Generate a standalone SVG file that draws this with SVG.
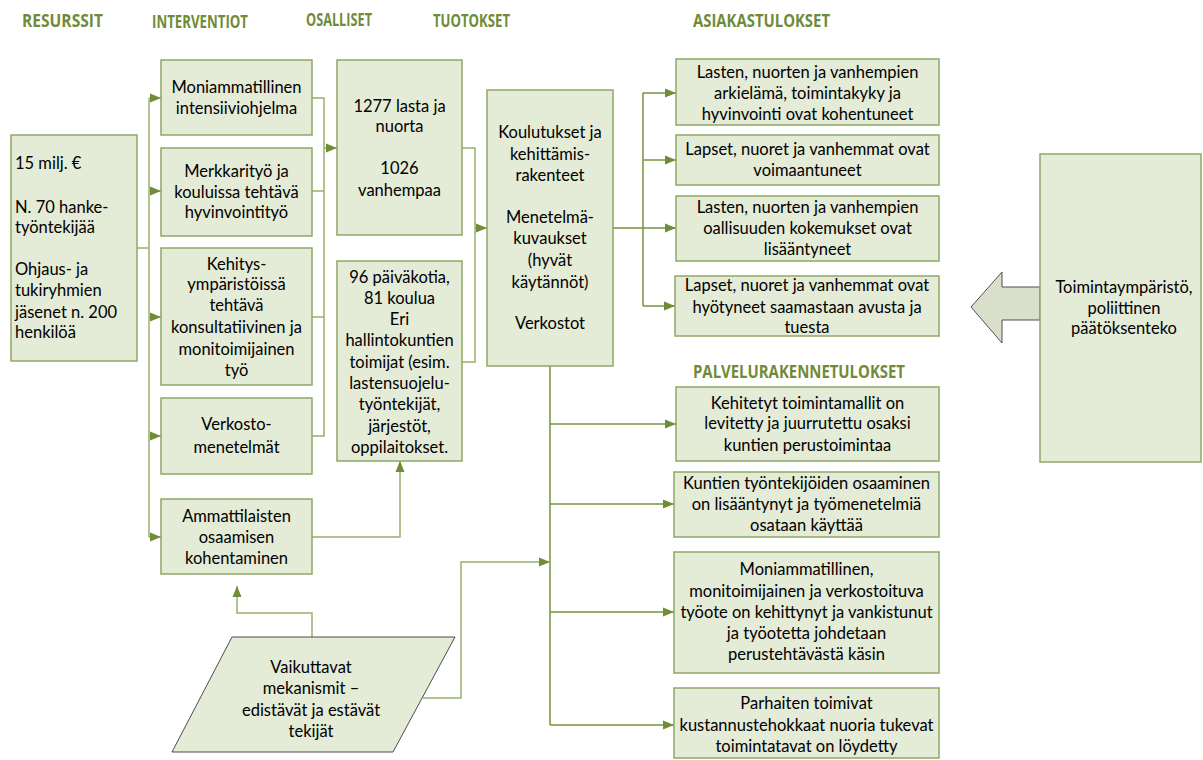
<svg xmlns="http://www.w3.org/2000/svg" width="1203" height="760" viewBox="0 0 1203 760">
<style>
.bg{fill:#ffffff}
.box{fill:#E4EBD6;stroke:#8FA866;stroke-width:1.5}
.para{fill:#E4EBD6;stroke:#3a3a3a;stroke-width:0.9}
.bigarrow{fill:#D9DFCB;stroke:#404040;stroke-width:0.9}
.hdr{font-family:"Open Sans","Liberation Sans",sans-serif;font-weight:bold;font-size:17px;fill:#6F8B37}
.t{font-family:Lato,"Liberation Sans",sans-serif;font-size:16.5px;fill:#000;text-anchor:middle}
.tl{font-family:Lato,"Liberation Sans",sans-serif;font-size:16.5px;fill:#000}
.c{fill:none;stroke:#77933C;stroke-width:1.5}
.cl{fill:none;stroke:#98B070;stroke-width:1.5}
</style>
<defs>
<marker id="ah" markerUnits="userSpaceOnUse" markerWidth="12" markerHeight="10" refX="11" refY="5" orient="auto">
<path d="M0,0.5 L11,5 L0,9.5 z" fill="#6F8C37"/>
</marker>
</defs>
<rect class="bg" x="0" y="0" width="1203" height="760"/>

<g id="headers">
<text class="hdr" x="22" y="27" textLength="81" lengthAdjust="spacingAndGlyphs">RESURSSIT</text>
<text class="hdr" x="152" y="28" textLength="96" lengthAdjust="spacingAndGlyphs">INTERVENTIOT</text>
<text class="hdr" x="306" y="26" textLength="66" lengthAdjust="spacingAndGlyphs">OSALLISET</text>
<text class="hdr" x="433" y="27" textLength="77" lengthAdjust="spacingAndGlyphs">TUOTOKSET</text>
<text class="hdr" x="693" y="27" textLength="137" lengthAdjust="spacingAndGlyphs">ASIAKASTULOKSET</text>
<text class="hdr" x="693" y="378" textLength="212" lengthAdjust="spacingAndGlyphs">PALVELURAKENNETULOKSET</text>
</g>

<g id="connectors">
<path class="cl" d="M137,248 H149"/>
<path class="cl" d="M149,98 V537"/>
<path class="cl" d="M149,98 H161" marker-end="url(#ah)"/>
<path class="cl" d="M149,191 H161" marker-end="url(#ah)"/>
<path class="cl" d="M149,317 H161" marker-end="url(#ah)"/>
<path class="cl" d="M149,436 H161" marker-end="url(#ah)"/>
<path class="cl" d="M149,537 H161" marker-end="url(#ah)"/>
<path class="cl" d="M312,98 H324 V436 H312"/>
<path class="cl" d="M312,191 H324"/>
<path class="cl" d="M312,317 H324"/>
<path class="cl" d="M324,148 H337" marker-end="url(#ah)"/>
<path class="cl" d="M312,537 H400 V461" marker-end="url(#ah)"/>
<path class="cl" d="M462,148 H475 V362 H462"/>
<path class="cl" d="M475,228 H487" marker-end="url(#ah)"/>
<path class="c" d="M613,228 H643"/>
<path class="c" d="M643,93 V306"/>
<path class="c" d="M643,93 H676" marker-end="url(#ah)"/>
<path class="c" d="M643,160 H676" marker-end="url(#ah)"/>
<path class="c" d="M643,228 H676" marker-end="url(#ah)"/>
<path class="c" d="M643,306 H675" marker-end="url(#ah)"/>
<path class="c" d="M550,366 V725"/>
<path class="c" d="M550,424 H676" marker-end="url(#ah)"/>
<path class="c" d="M550,504 H674" marker-end="url(#ah)"/>
<path class="c" d="M550,612 H674" marker-end="url(#ah)"/>
<path class="c" d="M550,725 H674" marker-end="url(#ah)"/>
<path class="cl" d="M423,698 H461 V562 H550" marker-end="url(#ah)"/>
<path class="cl" d="M312,637 V613 H237 V586" marker-end="url(#ah)"/>
</g>

<g id="resurssit">
<rect class="box" x="11" y="135" width="126" height="226"/>
<text class="tl" x="15" y="169">15 milj. €</text>
<text class="tl" x="15" y="213">N. 70 hanke-</text>
<text class="tl" x="15" y="233">työntekijää</text>
<text class="tl" x="15" y="275">Ohjaus- ja</text>
<text class="tl" x="15" y="296">tukiryhmien</text>
<text class="tl" x="15" y="318">jäsenet n. 200</text>
<text class="tl" x="15" y="338">henkilöä</text>
</g>

<g id="int1">
<rect class="box" x="161" y="60" width="151" height="75"/>
<text class="t" x="236.5" y="93">Moniammatillinen</text>
<text class="t" x="236.5" y="114">intensiiviohjelma</text>
</g>
<g id="int2">
<rect class="box" x="161" y="148" width="151" height="88"/>
<text class="t" x="236.5" y="177">Merkkarityö ja</text>
<text class="t" x="236.5" y="198">kouluissa tehtävä</text>
<text class="t" x="236.5" y="218">hyvinvointityö</text>
</g>
<g id="int3">
<rect class="box" x="161" y="248" width="151" height="137"/>
<text class="t" x="236.5" y="270">Kehitys-</text>
<text class="t" x="236.5" y="290">ympäristöissä</text>
<text class="t" x="236.5" y="311">tehtävä</text>
<text class="t" x="236.5" y="333">konsultatiivinen ja</text>
<text class="t" x="236.5" y="355">monitoimijainen</text>
<text class="t" x="236.5" y="376">työ</text>
</g>
<g id="int4">
<rect class="box" x="161" y="398" width="151" height="76"/>
<text class="t" x="236.5" y="430">Verkosto-</text>
<text class="t" x="236.5" y="453">menetelmät</text>
</g>
<g id="int5">
<rect class="box" x="161" y="499" width="151" height="75"/>
<text class="t" x="236.5" y="522">Ammattilaisten</text>
<text class="t" x="236.5" y="543">osaamisen</text>
<text class="t" x="236.5" y="564">kohentaminen</text>
</g>

<g id="osa1">
<rect class="box" x="337" y="60" width="125" height="175"/>
<text class="t" x="399.5" y="112">1277 lasta ja</text>
<text class="t" x="399.5" y="132">nuorta</text>
<text class="t" x="399.5" y="174">1026</text>
<text class="t" x="399.5" y="196">vanhempaa</text>
</g>
<g id="osa2">
<rect class="box" x="337" y="261" width="125" height="200"/>
<text class="t" x="399.5" y="283">96 päiväkotia,</text>
<text class="t" x="399.5" y="304">81 koulua</text>
<text class="t" x="399.5" y="325">Eri</text>
<text class="t" x="399.5" y="346">hallintokuntien</text>
<text class="t" x="399.5" y="368">toimijat (esim.</text>
<text class="t" x="399.5" y="389">lastensuojelu-</text>
<text class="t" x="399.5" y="410">työntekijät,</text>
<text class="t" x="399.5" y="432">järjestöt,</text>
<text class="t" x="399.5" y="453">oppilaitokset.</text>
</g>

<g id="tuotokset">
<rect class="box" x="487" y="90" width="126" height="276"/>
<text class="t" x="550" y="138">Koulutukset ja</text>
<text class="t" x="550" y="160">kehittämis-</text>
<text class="t" x="550" y="181">rakenteet</text>
<text class="t" x="550" y="223">Menetelmä-</text>
<text class="t" x="550" y="244">kuvaukset</text>
<text class="t" x="550" y="266">(hyvät</text>
<text class="t" x="550" y="288">käytännöt)</text>
<text class="t" x="550" y="329">Verkostot</text>
</g>

<g id="as1">
<rect class="box" x="676" y="59" width="263" height="66"/>
<text class="t" x="807.5" y="78">Lasten, nuorten ja vanhempien</text>
<text class="t" x="807.5" y="99">arkielämä, toimintakyky ja</text>
<text class="t" x="807.5" y="120">hyvinvointi ovat kohentuneet</text>
</g>
<g id="as2">
<rect class="box" x="676" y="135" width="263" height="50"/>
<text class="t" x="807.5" y="155">Lapset, nuoret ja vanhemmat ovat</text>
<text class="t" x="807.5" y="176">voimaantuneet</text>
</g>
<g id="as3">
<rect class="box" x="676" y="196" width="263" height="65"/>
<text class="t" x="807.5" y="213">Lasten, nuorten ja vanhempien</text>
<text class="t" x="807.5" y="234">oallisuuden kokemukset ovat</text>
<text class="t" x="807.5" y="255">lisääntyneet</text>
</g>
<g id="as4">
<rect class="box" x="675" y="276" width="264" height="60"/>
<text class="t" x="807" y="291">Lapset, nuoret ja vanhemmat ovat</text>
<text class="t" x="807" y="313">hyötyneet saamastaan avusta ja</text>
<text class="t" x="807" y="333">tuesta</text>
</g>

<g id="pa1">
<rect class="box" x="676" y="387" width="263" height="74"/>
<text class="t" x="807.5" y="409">Kehitetyt toimintamallit on</text>
<text class="t" x="807.5" y="429">levitetty ja juurrutettu osaksi</text>
<text class="t" x="807.5" y="451">kuntien perustoimintaa</text>
</g>
<g id="pa2">
<rect class="box" x="674" y="472" width="265" height="65"/>
<text class="t" x="806.5" y="489">Kuntien työntekijöiden osaaminen</text>
<text class="t" x="806.5" y="510">on lisääntynyt ja työmenetelmiä</text>
<text class="t" x="806.5" y="531">osataan käyttää</text>
</g>
<g id="pa3">
<rect class="box" x="674" y="552" width="265" height="121"/>
<text class="t" x="806.5" y="575">Moniammatillinen,</text>
<text class="t" x="806.5" y="597">monitoimijainen ja verkostoituva</text>
<text class="t" x="806.5" y="618">työote on kehittynyt ja vankistunut</text>
<text class="t" x="806.5" y="639">ja työotetta johdetaan</text>
<text class="t" x="806.5" y="660">perustehtävästä käsin</text>
</g>
<g id="pa4">
<rect class="box" x="674" y="688" width="265" height="70"/>
<text class="t" x="806.5" y="709">Parhaiten toimivat</text>
<text class="t" x="806.5" y="731">kustannustehokkaat nuoria tukevat</text>
<text class="t" x="806.5" y="752">toimintatavat on löydetty</text>
</g>

<g id="mekanismit">
<polygon class="para" points="232,637 455,637 393,752 172,752"/>
<text class="t" x="311" y="673">Vaikuttavat</text>
<text class="t" x="311" y="694">mekanismit –</text>
<text class="t" x="311" y="716">edistävät ja estävät</text>
<text class="t" x="311" y="737">tekijät</text>
</g>

<g id="toimintaymparisto">
<polygon class="bigarrow" points="971,307 1002,272 1002,287 1040,287 1040,320 1002,320 1002,343"/>
<rect class="box" x="1040" y="154" width="161" height="308"/>
<text class="t" x="1124" y="293">Toimintaympäristö,</text>
<text class="t" x="1124" y="314">poliittinen</text>
<text class="t" x="1124" y="334">päätöksenteko</text>
</g>
</svg>
